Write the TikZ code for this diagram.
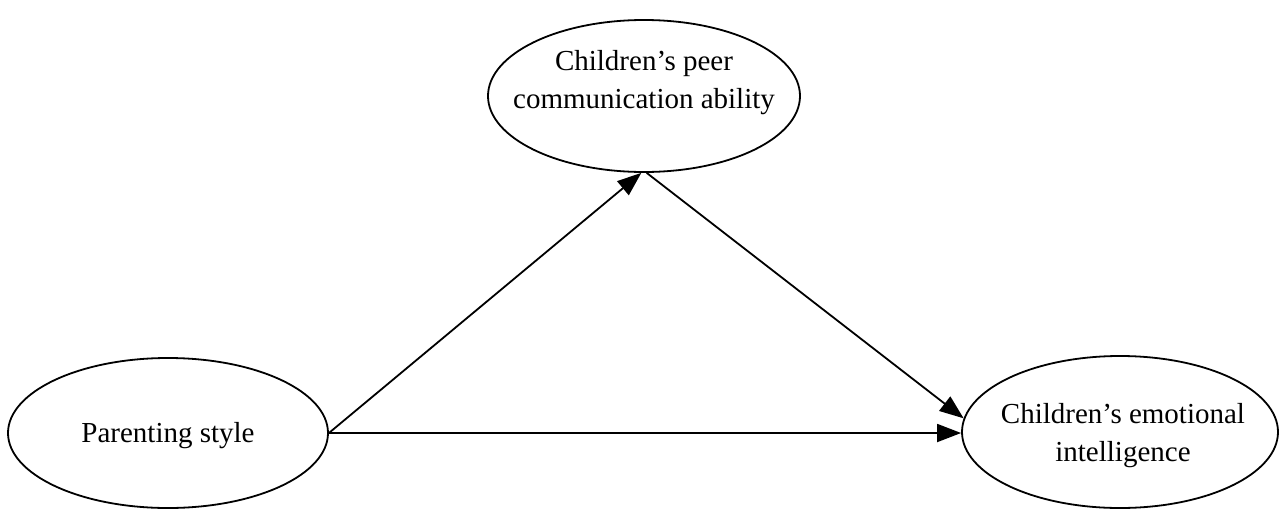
\documentclass[tikz,border=0pt]{standalone}
\usepackage{fontspec}
\setmainfont{Liberation Serif}
\usetikzlibrary{shapes.geometric,arrows.meta}
\begin{document}
\begin{tikzpicture}[x=0.5pt,y=-0.5pt,
  oval/.style={draw,ellipse,line width=0.9pt,inner sep=0pt},
  txt/.style={align=center,font=\fontsize{14.5}{19}\selectfont,inner sep=0pt},
  arr/.style={line width=0.9pt,-{Triangle[length=12pt,width=9pt]}}]
\useasboundingbox (0,0) rectangle (1280,509);
\node[oval,minimum width=156pt,minimum height=76pt] (top) at (644,96) {};
\node[txt] (topt) at (644,83) {Children’s peer\\communication ability};
\node[oval,minimum width=160pt,minimum height=75pt] (left) at (168,433) {};
\node[txt] (leftt) at (168,436) {Parenting style};
\node[oval,minimum width=158pt,minimum height=76pt] (right) at (1120,432) {};
\node[txt] (rightt) at (1123,436) {Children’s emotional\\intelligence};
\draw[arr] (left.east) -- (top.-92);
\draw[arr] (top.-88) -- (right.175);
\draw[arr] (left.east) -- (left.east -| right.west);
\end{tikzpicture}
\end{document}
